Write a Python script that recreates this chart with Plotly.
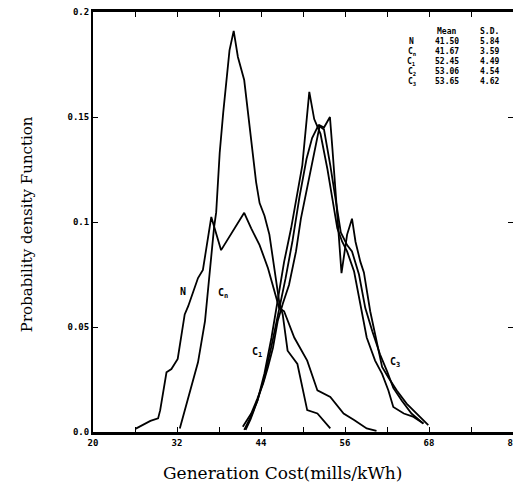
import plotly.graph_objects as go

# ---- data ----
n_x = [26.05, 26.8, 28.2, 29.3, 29.6, 30.5, 31.2, 32.1, 33.1, 33.6, 34.3, 35.0, 35.7, 36.9, 38.3, 41.6,
       42.6, 43.8, 45.0, 45.9, 46.6, 47.3, 48.75, 50.6, 52.06, 53.9, 55.8, 57.3, 59.1, 60.5]
n_y = [0.0015, 0.0028, 0.0053, 0.0065, 0.0104, 0.0284, 0.030, 0.0348, 0.056, 0.0599, 0.0662, 0.0733, 0.0772,
       0.1024, 0.0866, 0.1044, 0.097, 0.089, 0.078, 0.067, 0.059, 0.0575, 0.045, 0.034, 0.0198, 0.0167,
       0.0088, 0.0057, 0.0017, 0.0005]

cn_x = [32.4, 33.6, 35.0, 36.0, 36.7, 37.3, 37.6, 38.1, 38.6, 39.5, 40.1, 40.7, 41.6, 42.4, 43.3, 43.8,
        44.5, 45.2, 45.9, 46.6, 47.1, 47.8, 49.2, 50.6, 52.06, 53.9]
cn_y = [0.0017, 0.0159, 0.0332, 0.0528, 0.078, 0.0976, 0.1047, 0.133, 0.152, 0.1817, 0.191, 0.1786, 0.1676,
        0.144, 0.119, 0.109, 0.103, 0.094, 0.078, 0.062, 0.056, 0.0387, 0.0324, 0.0104, 0.0088, 0.0017]

c1_x = [41.8, 42.5, 43.5, 44.5, 45.5, 46.4, 47.3, 48.3, 49.1, 49.9, 50.9, 51.6, 52.5, 53.5, 54.2, 54.9,
        55.6, 56.3, 57.3, 58.2, 59.1, 60.3, 61.3, 62.2, 62.9, 64.4, 65.8, 67.2]
c1_y = [0.001, 0.006, 0.015, 0.028, 0.045, 0.062, 0.081, 0.097, 0.112, 0.127, 0.162, 0.149, 0.142, 0.125,
        0.111, 0.097, 0.0906, 0.086, 0.0764, 0.0607, 0.045, 0.034, 0.0277, 0.0198, 0.0119, 0.0088, 0.0072, 0.0041]

c2_x = [41.6, 42.5, 43.5, 44.5, 45.5, 46.5, 47.5, 48.5, 49.5, 50.5, 51.3, 52.2, 53.0, 53.9, 54.7, 55.4,
        56.3, 57.0, 58.0, 58.9, 59.9, 61.0, 62.0, 62.9, 64.1, 65.5, 67.2]
c2_y = [0.001, 0.007, 0.015, 0.026, 0.041, 0.057, 0.073, 0.091, 0.112, 0.13, 0.14, 0.146, 0.144, 0.127,
        0.111, 0.095, 0.089, 0.086, 0.075, 0.059, 0.048, 0.037, 0.029, 0.021, 0.015, 0.0088, 0.004]

c3_x = [41.4, 42.6, 43.5, 44.3, 45.0, 45.7, 46.4, 47.1, 48.0, 49.0, 49.7, 50.6, 51.6, 52.0, 52.4, 53.0,
        53.85, 54.2, 54.7, 55.1, 55.5, 56.3, 57.0, 57.5, 58.2, 58.7, 59.6, 60.6, 61.3, 62.2, 63.4, 64.8,
        66.2, 67.9]
c3_y = [0.0025, 0.0088, 0.016, 0.023, 0.031, 0.040, 0.053, 0.061, 0.070, 0.086, 0.1016, 0.117, 0.133, 0.14,
        0.146, 0.145, 0.150, 0.135, 0.114, 0.094, 0.0756, 0.094, 0.1016, 0.0906, 0.081, 0.076, 0.0575,
        0.042, 0.031, 0.026, 0.0198, 0.0135, 0.0088, 0.0033]

table_names = ["N", "C<sub>n</sub>", "C<sub>1</sub>", "C<sub>2</sub>", "C<sub>3</sub>"]
table_means = ["41.50", "41.67", "52.45", "53.06", "53.65"]
table_sds = ["5.84", "3.59", "4.49", "4.54", "4.62"]

x_tickvals = [20, 26, 32, 38, 44, 50, 56, 62, 68, 74, 80]
x_ticktext = ["20", "", "32", "", "44", "", "56", "", "68", "", "80"]
y_tickvals = [0.0, 0.05, 0.1, 0.15, 0.2]
y_ticktext = ["0.0", "0.05", "0.1", "0.15", "0.2"]

fig = go.Figure()
for xs, ys in [(n_x, n_y), (cn_x, cn_y), (c1_x, c1_y), (c2_x, c2_y), (c3_x, c3_y)]:
    fig.add_trace(go.Scatter(x=xs, y=ys, mode="lines",
                             line=dict(color="black", width=1.8), showlegend=False,
                             hoverinfo="skip"))

mono = "DejaVu Sans Mono"
lab_font = dict(family=mono, size=10, color="black", weight="bold")
curve_labels = [("N", 32.86, 0.0667), ("C<sub>n</sub>", 38.5, 0.066),
                ("C<sub>1</sub>", 43.4, 0.038), ("C<sub>3</sub>", 63.2, 0.033)]
for t, x, y in curve_labels:
    fig.add_annotation(x=x, y=y, text=t, showarrow=False, font=lab_font)

# statistics table
tab_font = dict(family=mono, size=8, color="black", weight="bold")
def ypix(py):
    return (432 - py) / 2100
fig.add_annotation(x=70.5, y=ypix(31.5), text="Mean", showarrow=False, font=tab_font)
fig.add_annotation(x=76.7, y=ypix(31.5), text="S.D.", showarrow=False, font=tab_font)
for i, (nm, mu, sd) in enumerate(zip(table_names, table_means, table_sds)):
    py = 41.7 + 10 * i
    fig.add_annotation(x=65.5, y=ypix(py), text=nm, showarrow=False, font=tab_font)
    fig.add_annotation(x=70.5, y=ypix(py), text=mu, showarrow=False, font=tab_font)
    fig.add_annotation(x=76.7, y=ypix(py), text=sd, showarrow=False, font=tab_font)

# axis titles
fig.add_annotation(xref="paper", yref="paper", x=0.452, y=-0.098,
                   xanchor="center", yanchor="middle",
                   text="Generation Cost(mills/kWh)", showarrow=False,
                   font=dict(family="DejaVu Serif", size=17, color="black"))
fig.add_annotation(xref="paper", yref="paper", x=-0.157, y=0.495, textangle=-90,
                   xanchor="center", yanchor="middle",
                   text="Probability density Function", showarrow=False,
                   font=dict(family="DejaVu Serif", size=15, color="black"))

tick_font = dict(family=mono, size=9, color="black", weight="bold")

fig.update_layout(
    width=513, height=491,
    margin=dict(l=93, r=0, t=12, b=59),
    paper_bgcolor="white", plot_bgcolor="white",
    xaxis=dict(range=[20, 80], tickvals=x_tickvals, ticktext=x_ticktext, automargin=False,
               ticks="inside", ticklen=5, tickcolor="black", tickwidth=1,
               showline=True, linecolor="black", linewidth=3, mirror="ticks",
               ticklabeloverflow="allow",
               showgrid=False, zeroline=False, tickfont=tick_font),
    yaxis=dict(range=[0, 0.2], tickvals=y_tickvals, ticktext=y_ticktext, automargin=False,
               ticks="inside", ticklen=5, tickcolor="black", tickwidth=1,
               showline=True, linecolor="black", linewidth=2, mirror="ticks",
               ticklabeloverflow="allow",
               showgrid=False, zeroline=False, tickfont=tick_font),
)

# remove the page's default 8px body margin so the figure sits at the window origin
fig.write_html("out.html", config={"displayModeBar": False},
               post_script="document.body.style.margin='0';document.body.style.overflow='hidden';")
